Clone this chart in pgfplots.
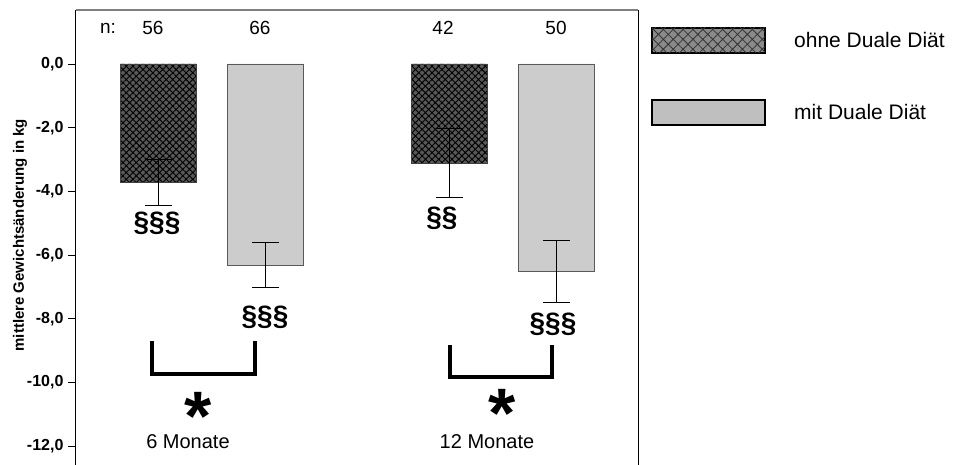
\documentclass[border=0pt]{standalone}
\usepackage{fontspec}
\setmainfont{Liberation Sans}
\usepackage{pgfplots}
\pgfplotsset{compat=1.18}
\usetikzlibrary{patterns.meta}
\definecolor{darkbar}{RGB}{88,88,88}
\definecolor{lightbar}{RGB}{204,204,204}
\definecolor{topgray}{RGB}{128,128,128}
\newcommand{\fs}[1]{\fontsize{#1}{#1}\selectfont}
\newcommand{\bigstar}{\raisebox{-0.44em}[0.29em][0pt]{*}}
\begin{document}
\begin{tikzpicture}[x=1pt,y=1pt]
\useasboundingbox (0,0) rectangle (953,465);
\begin{axis}[
  at={(76pt,0pt)}, anchor=south west,
  scale only axis, width=562pt, height=455pt,
  xmin=0, xmax=562, ymin=-12.59, ymax=1.695,
  axis x line=none, axis y line*=left,
  y axis line style={line width=1pt, -},
  xtick=\empty,
  ytick={-12,-10,-8,-6,-4,-2,0},
  yticklabels={{-12,0},{-10,0},{-8,0},{-6,0},{-4,0},{-2,0},{0,0}},
  yticklabel style={font=\fs{16}\bfseries, xshift=-1pt},
  ytick style={line width=0.8pt, black},
  major tick length=8pt, tick align=outside,
  ylabel={mittlere Gewichtsänderung in kg},
  ylabel style={font=\fs{15}\bfseries, at={(axis description cs:-0.0996,0.505)}, anchor=center},
  clip=false,
  error bars/error bar style={line width=1pt, black},
  error bars/error mark options={rotate=90, mark size=13.5pt, line width=1pt, black},
]
% dark bars (ohne Duale Diaet)
\addplot[ybar, bar width=76, bar shift=0pt, draw=black!75, line width=0.8pt,
  fill=darkbar, postaction={pattern={Hatch[angle=45,distance=4.7pt,line width=0.9pt]}, pattern color=black},
  error bars/.cd, y dir=both, y explicit]
  coordinates {(82,-3.72) +- (0,0.71) (373,-3.12) +- (0,1.08)};
% light bars (mit Duale Diaet)
\addplot[ybar, bar width=76, bar shift=0pt, draw=black!65, line width=0.8pt, fill=lightbar,
  error bars/.cd, y dir=both, y explicit]
  coordinates {(189.5,-6.31) +- (0,0.71) (480.5,-6.52) +- (0,0.97)};
% borders
\draw[topgray, line width=1.2pt] (rel axis cs:0,1) -- (rel axis cs:1,1);
\draw[black, line width=1pt] (rel axis cs:1,0) -- (rel axis cs:1,1);
% n labels
\node[font=\fs{19}] at (axis cs:32,1.13) {n:};
\node[font=\fs{19}] at (axis cs:77,1.13) {56};
\node[font=\fs{19}] at (axis cs:184,1.13) {66};
\node[font=\fs{19}] at (axis cs:367,1.13) {42};
\node[font=\fs{19}] at (axis cs:480,1.13) {50};
% significance
\node[font=\fs{28}\bfseries] at (axis cs:81,-4.99) {§§§};
\node[font=\fs{28}\bfseries] at (axis cs:189,-7.94) {§§§};
\node[font=\fs{28}\bfseries] at (axis cs:366,-4.85) {§§};
\node[font=\fs{28}\bfseries] at (axis cs:477,-8.16) {§§§};
% brackets
\draw[line width=4pt, line cap=butt, line join=miter] (axis cs:76,-8.70) -- (axis cs:76,-9.73) -- (axis cs:179,-9.73) -- (axis cs:179,-8.70);
\draw[line width=4pt, line cap=butt, line join=miter] (axis cs:374,-8.82) -- (axis cs:374,-9.83) -- (axis cs:476,-9.83) -- (axis cs:476,-8.82);
\node[font=\fs{70}\bfseries, anchor=north, inner sep=0pt] at (axis cs:121.7,-10.2) {\bigstar};
\node[font=\fs{70}\bfseries, anchor=north, inner sep=0pt] at (axis cs:426,-10.12) {\bigstar};
\node[font=\fs{20}] at (axis cs:112,-11.87) {6 Monate};
\node[font=\fs{20}] at (axis cs:411,-11.87) {12 Monate};
\end{axis}
% legend
\draw[black, line width=2pt, fill=darkbar!70, postaction={pattern={Hatch[angle=45,distance=7pt,line width=0.8pt]}, pattern color=black!80}] (652,412) rectangle (765,437);
\node[font=\fs{21}, anchor=west, inner sep=0pt] at (794,424.5) {ohne Duale Diät};
\draw[black, line width=2pt, fill=black!25] (652,340) rectangle (765,365);
\node[font=\fs{21}, anchor=west, inner sep=0pt] at (794,352.5) {mit Duale Diät};
\end{tikzpicture}
\end{document}
